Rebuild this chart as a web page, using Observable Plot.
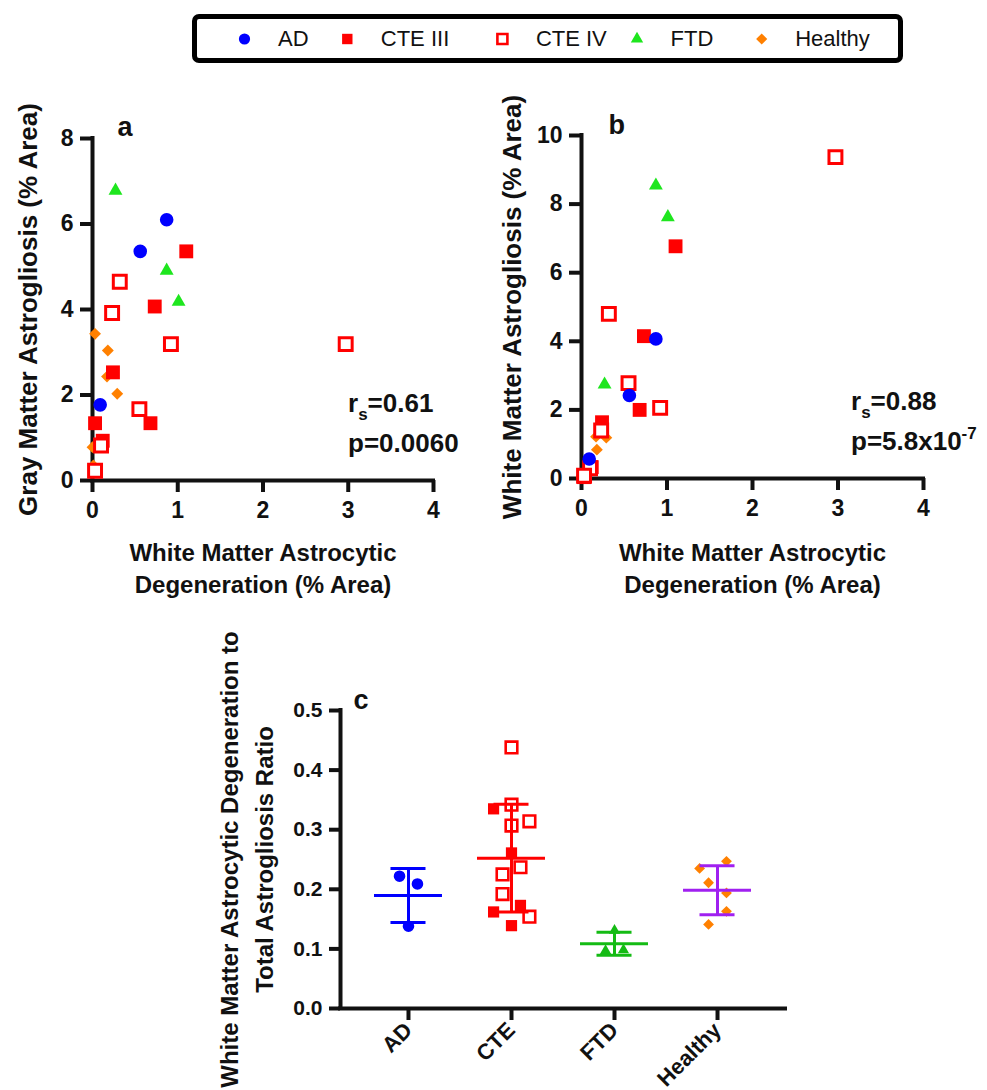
<!DOCTYPE html>
<html>
<head>
<meta charset="utf-8">
<script src="https://cdn.jsdelivr.net/npm/d3@7"></script>
<script src="https://cdn.jsdelivr.net/npm/@observablehq/plot@0.6"></script>
<style>
  body { margin: 0; background: #fff; }
  #fig { position: relative; width: 987px; height: 1090px; overflow: hidden; background: #fff;
         font-family: "Liberation Sans", Arial, sans-serif; }
  #fig svg { position: absolute; }
  .legend { position: absolute; box-sizing: border-box; border: 5px solid #000; border-radius: 7px; }
</style>
</head>
<body>
<div id="fig"></div>
<script>
// ---------------- data ----------------
const groups = ["AD", "CTE III", "CTE IV", "FTD", "Healthy"];

// White matter astrocytic degeneration (% area), one value per case
const adDegeneration      = [0.87, 0.56, 0.09];
const cte3Degeneration    = [1.10, 0.73, 0.24, 0.68, 0.03, 0.12];
const cte4Degeneration    = [2.97, 0.92, 0.32, 0.23, 0.55, 0.10, 0.03];
const ftdDegeneration     = [0.27, 0.87, 1.01];
const healthyDegeneration = [0.03, 0.18, 0.17, 0.29, 0.00, 0.01];

// Gray matter astrogliosis (% area)
const adGray      = [6.10, 5.36, 1.77];
const cte3Gray    = [5.36, 4.07, 2.53, 1.34, 1.34, 0.93];
const cte4Gray    = [3.19, 3.19, 4.65, 3.92, 1.67, 0.82, 0.23];
const ftdGray     = [6.78, 4.91, 4.18];
const healthyGray = [3.43, 3.04, 2.43, 2.03, 0.78, 0.35];

// White matter astrogliosis (% area)
const adWhite      = [4.07, 2.42, 0.57];
const cte3White    = [6.77, 4.15, 1.64, 2.00, 0.04, 0.33];
const cte4White    = [9.37, 2.06, 4.80, 1.40, 2.78, 0.30, 0.08];
const ftdWhite     = [2.74, 8.54, 7.62];
const healthyWhite = [0.10, 0.84, 1.22, 1.19, 0.05, 0.05];

// Spearman statistics printed on panels a and b
const statsA = { r: "0.61", p: "0.0060" };
const statsB = { r: "0.88", p: "5.8x10", pExp: "-7" };

// Degeneration / total astrogliosis ratio (panel c)
const ratioCategories = ["AD", "CTE", "FTD", "Healthy"];
const adRatio      = [0.222, 0.209, 0.138];
const cte3Ratio    = [0.335, 0.261, 0.173, 0.162, 0.139];
const cte4Ratio    = [0.438, 0.342, 0.307, 0.314, 0.237, 0.225, 0.192, 0.154];
const ftdRatio     = [0.131, 0.097, 0.098];
const healthyRatio = [0.235, 0.247, 0.211, 0.194, 0.163, 0.141];
// horizontal scatter slot of each point inside its column
const adSlot      = [-1, 1, 0];
const cte3Slot    = [-2, 0, 1, -2, 0];
const cte4Slot    = [0, 0, 0, 2, 1, -1, -1, 2];
const ftdSlot     = [0, -1, 1];
const healthySlot = [-2, 1, -1, 1, 1, -1];

// ---------------- styling ----------------
const BLUE = "#0000ff", RED = "#ff0000", GREEN = "#1ee61e", GREEN_DARK = "#14bb14",
      ORANGE = "#ff8000", PURPLE = "#a020f0";
const FONT = "'Liberation Sans', Arial, sans-serif";

// marker shapes; Plot passes size = PI * r^2
const rad = (size) => Math.sqrt(size / Math.PI);
const symCircle = { draw(c, s) { const r = rad(s); c.moveTo(r, 0); c.arc(0, 0, r, 0, 2 * Math.PI); } };
const symSquare = { draw(c, s) { const r = rad(s); c.rect(-r, -r, 2 * r, 2 * r); } };
const symTriangle = { draw(c, s) { const r = rad(s), h = 1.75 * r;
  c.moveTo(0, -h * 2 / 3); c.lineTo(r, h / 3); c.lineTo(-r, h / 3); c.closePath(); } };
const symDiamond = { draw(c, s) { const r = 0.9 * rad(s);
  c.moveTo(0, -r); c.lineTo(r, 0); c.lineTo(0, r); c.lineTo(-r, 0); c.closePath(); } };

const groupStyle = {
  "AD":      { symbol: symCircle,   fill: BLUE,   stroke: "none", strokeWidth: 0, k: 1.0 },
  "CTE III": { symbol: symSquare,   fill: RED,    stroke: "none", strokeWidth: 0, k: 1.02 },
  "CTE IV":  { symbol: symSquare,   fill: "white", stroke: RED,   strokeWidth: 3, k: 0.95 },
  "FTD":     { symbol: symTriangle, fill: GREEN,  stroke: "none", strokeWidth: 0, k: 1.02 },
  "Healthy": { symbol: symDiamond,  fill: ORANGE, stroke: "none", strokeWidth: 0, k: 0.97 }
};

// ---------------- tables ----------------
const caseRows = [];
[["AD", adDegeneration, adGray, adWhite],
 ["CTE III", cte3Degeneration, cte3Gray, cte3White],
 ["CTE IV", cte4Degeneration, cte4Gray, cte4White],
 ["FTD", ftdDegeneration, ftdGray, ftdWhite],
 ["Healthy", healthyDegeneration, healthyGray, healthyWhite]
].forEach(([group, deg, gray, white]) =>
  deg.forEach((d, i) => caseRows.push({ group, degeneration: d, gray: gray[i], white: white[i] })));

const fig = document.getElementById("fig");

// text block with sub/superscripts, placed relative to the plot frame
function statMark(lines, left, top, gap) {
  return (index, scales, values, dim) => {
    const g = d3.create("svg:g").attr("font-size", 26).attr("font-weight", "bold")
      .attr("font-family", FONT).attr("fill", "#111").attr("text-anchor", "start");
    lines.forEach((segs, li) => {
      const t = g.append("text").attr("x", dim.marginLeft + left).attr("y", dim.marginTop + top + li * gap);
      let shift = 0;
      segs.forEach(([txt, kind]) => {
        const target = kind === "sub" ? 8 : kind === "sup" ? -11 : 0;
        const sp = t.append("tspan").attr("dy", target - shift).text(txt);
        if (kind) sp.attr("font-size", 17);
        shift = target;
      });
    });
    return g.node();
  };
}

// order in which the groups are layered
const drawOrder = ["Healthy", "CTE III", "CTE IV", "FTD", "AD"];

function scatterPanel(o) {
  const marks = [
    Plot.ruleY([0], { x1: 0, x2: 4, strokeWidth: 4, strokeLinecap: "square" }),
    Plot.ruleX([0], { y1: 0, y2: o.yMax, strokeWidth: 4, strokeLinecap: "square" }),
    Plot.axisX({ ticks: [0, 1, 2, 3, 4], tickFormat: d => String(d), tickSize: 12, tickPadding: 9,
      strokeWidth: 4, fontSize: 23, label: null }),
    Plot.axisY({ ticks: o.yTicks, tickFormat: d => String(d), tickSize: 12, tickPadding: 7,
      strokeWidth: 4, fontSize: 23, label: null }),
    ...drawOrder.map(g => {
      const s = groupStyle[g];
      return Plot.dot(caseRows.filter(d => d.group === g), {
        x: "degeneration", y: o.yField, symbol: s.symbol, r: 6.8 * s.k,
        fill: s.fill, stroke: s.stroke, strokeWidth: s.strokeWidth
      });
    }),
    Plot.text([o.yTitle], { frameAnchor: "left", dx: o.yTitleDx, rotate: -90, textAnchor: "middle",
      lineAnchor: "bottom", fontSize: 26 }),
    Plot.text(["White Matter Astrocytic\nDegeneration (% Area)"], { frameAnchor: "bottom", dy: o.xTitleDy,
      textAnchor: "middle", lineAnchor: "bottom", lineHeight: 1.3, fontSize: 24 }),
    Plot.text([o.letter], { frameAnchor: "top-left", dx: o.letterDx, dy: o.letterDy, textAnchor: "start",
      lineAnchor: "bottom", fontSize: 27 }),
    statMark(o.stats, o.statLeft, o.statTop, 39.5)
  ];
  const svg = Plot.plot({
    width: o.width, height: o.height,
    marginLeft: o.ml, marginRight: o.mr, marginTop: o.mt, marginBottom: o.mb,
    x: { domain: [0, 4] },
    y: { domain: [0, o.yMax] },
    style: { fontFamily: FONT, fontSize: "23px", fontWeight: "bold", color: "#111",
             background: "transparent", overflow: "visible" },
    marks
  });
  svg.style.left = o.left + "px";
  svg.style.top = o.top + "px";
  fig.appendChild(svg);
}

// panel a: gray matter astrogliosis
scatterPanel({
  left: 0, top: 90, width: 480, height: 520, ml: 92, mr: 47, mt: 48, mb: 130,
  yField: "gray", yMax: 8, yTicks: [0, 2, 4, 6, 8],
  yTitle: "Gray Matter Astrogliosis (% Area)", yTitleDx: -56, xTitleDy: 112,
  letter: "a", letterDx: 25, letterDy: -3,
  stats: [[["r"], ["s", "sub"], ["=" + statsA.r]], [["p=" + statsA.p]]],
  statLeft: 256, statTop: 274
});

// panel b: white matter astrogliosis
scatterPanel({
  left: 480, top: 90, width: 507, height: 520, ml: 101, mr: 64, mt: 45, mb: 132,
  yField: "white", yMax: 10, yTicks: [0, 2, 4, 6, 8, 10],
  yTitle: "White Matter Astrogliosis (% Area)", yTitleDx: -61, xTitleDy: 114,
  letter: "b", letterDx: 27, letterDy: -2,
  stats: [[["r"], ["s", "sub"], ["=" + statsB.r]], [["p=" + statsB.p], [statsB.pExp, "sup"]]],
  statLeft: 270, statTop: 275
});

// panel c: ratio by diagnosis, mean ± SD
(function ratioPanel() {
  const slotWidth = 0.087;
  const rows = [];
  const add = (cat, group, vals, slots) => vals.forEach((v, i) =>
    rows.push({ cat, group, ratio: v, pos: ratioCategories.indexOf(cat) + slots[i] * slotWidth }));
  add("AD", "AD", adRatio, adSlot);
  add("CTE", "CTE III", cte3Ratio, cte3Slot);
  add("CTE", "CTE IV", cte4Ratio, cte4Slot);
  add("FTD", "FTD", ftdRatio, ftdSlot);
  add("Healthy", "Healthy", healthyRatio, healthySlot);

  const barColor = { AD: BLUE, CTE: RED, FTD: GREEN_DARK, Healthy: PURPLE };
  const summary = ratioCategories.map((cat, i) => {
    const v = rows.filter(r => r.cat === cat).map(r => r.ratio);
    const m = d3.mean(v), s = d3.deviation(v);
    return { cat, i, mean: m, lo: m - s, hi: m + s, color: barColor[cat] };
  });

  const dotStyle = {
    "AD":      { symbol: symCircle, fill: BLUE, stroke: "none", sw: 0, r: 5.8 },
    "CTE III": { symbol: symSquare, fill: RED, stroke: "none", sw: 0, r: 5.6 },
    "CTE IV":  { symbol: symSquare, fill: "none", stroke: RED, sw: 2.6, r: 5.8 },
    "FTD":     { symbol: symTriangle, fill: GREEN_DARK, stroke: "none", sw: 0, r: 5.6 },
    "Healthy": { symbol: symDiamond, fill: ORANGE, stroke: "none", sw: 0, r: 6.0 }
  };

  const half = 0.33, cap = 0.17;
  const svg = Plot.plot({
    width: 620, height: 430, marginLeft: 160, marginRight: 15, marginTop: 50, marginBottom: 82,
    x: { domain: [-0.66, 3.66] },
    y: { domain: [0, 0.5] },
    style: { fontFamily: FONT, fontSize: "21px", fontWeight: "bold", color: "#111",
             background: "transparent", overflow: "visible" },
    marks: [
      Plot.ruleY([0], { x1: -0.66, x2: 3.66, strokeWidth: 4, strokeLinecap: "square" }),
      Plot.ruleX([-0.66], { y1: 0, y2: 0.5, strokeWidth: 4, strokeLinecap: "square" }),
      Plot.axisY({ ticks: [0, 0.1, 0.2, 0.3, 0.4, 0.5], tickFormat: ".1f", tickSize: 11, tickPadding: 7,
        strokeWidth: 4, fontSize: 21, label: null }),
      Plot.axisX({ ticks: [0, 1, 2, 3], tickFormat: i => ratioCategories[i], tickRotate: -45,
        tickSize: 12, tickPadding: 6, strokeWidth: 4, fontSize: 22, label: null }),
      ...["CTE III", "CTE IV", "AD", "FTD", "Healthy"].map(g => {
        const s = dotStyle[g];
        return Plot.dot(rows.filter(d => d.group === g), {
          x: "pos", y: "ratio", symbol: s.symbol, r: s.r, fill: s.fill, stroke: s.stroke, strokeWidth: s.sw
        });
      }),
      Plot.ruleX(summary, { x: "i", y1: "lo", y2: "hi", stroke: "color", strokeWidth: 3 }),
      Plot.ruleY(summary, { y: "mean", x1: d => d.i - half, x2: d => d.i + half, stroke: "color", strokeWidth: 3 }),
      Plot.ruleY(summary, { y: "hi", x1: d => d.i - cap, x2: d => d.i + cap, stroke: "color", strokeWidth: 3 }),
      Plot.ruleY(summary, { y: "lo", x1: d => d.i - cap, x2: d => d.i + cap, stroke: "color", strokeWidth: 3 }),
      Plot.text(["White Matter Astrocytic Degeneration to\nTotal Astrogliosis Ratio"], {
        frameAnchor: "left", dx: -68, rotate: -90, textAnchor: "middle", lineAnchor: "bottom",
        lineHeight: 1.45, fontSize: 24 }),
      Plot.text(["c"], { frameAnchor: "top-left", dx: 13, dy: -2, textAnchor: "start",
        lineAnchor: "bottom", fontSize: 27 })
    ]
  });
  svg.style.left = "180px";
  svg.style.top = "660px";
  fig.appendChild(svg);
})();

// ---------------- legend ----------------
(function legend() {
  const box = document.createElement("div");
  box.className = "legend";
  Object.assign(box.style, { left: "192px", top: "14px", width: "711px", height: "49px" });
  fig.appendChild(box);
  const markerX = [244.5, 347.3, 502.4, 637, 761.7];   // page x of each swatch centre
  const legendSym = {
    "AD": { sym: symCircle, r: 5.6, fill: BLUE, stroke: "none", sw: 0 },
    "CTE III": { sym: symSquare, r: 5.2, fill: RED, stroke: "none", sw: 0 },
    "CTE IV": { sym: symSquare, r: 5.0, fill: "white", stroke: RED, sw: 2.6 },
    "FTD": { sym: symTriangle, r: 6.2, fill: GREEN, stroke: "none", sw: 0 },
    "Healthy": { sym: symDiamond, r: 6.2, fill: ORANGE, stroke: "none", sw: 0 }
  };
  const sw = d3.create("svg").attr("width", 987).attr("height", 70)
    .style("left", "0px").style("top", "0px");
  groups.forEach((g, i) => {
    const s = legendSym[g];
    sw.append("path").attr("d", d3.symbol(s.sym, Math.PI * s.r * s.r)())
      .attr("transform", `translate(${markerX[i]},39)`)
      .attr("fill", s.fill).attr("stroke", s.stroke).attr("stroke-width", s.sw);
    const lab = document.createElement("span");
    lab.textContent = g;
    Object.assign(lab.style, { position: "absolute", left: (markerX[i] + 33.5) + "px", top: "28px",
      fontSize: "22px", lineHeight: "1", color: "#111" });
    fig.appendChild(lab);
  });
  fig.appendChild(sw.node());
})();
</script>
</body>
</html>
